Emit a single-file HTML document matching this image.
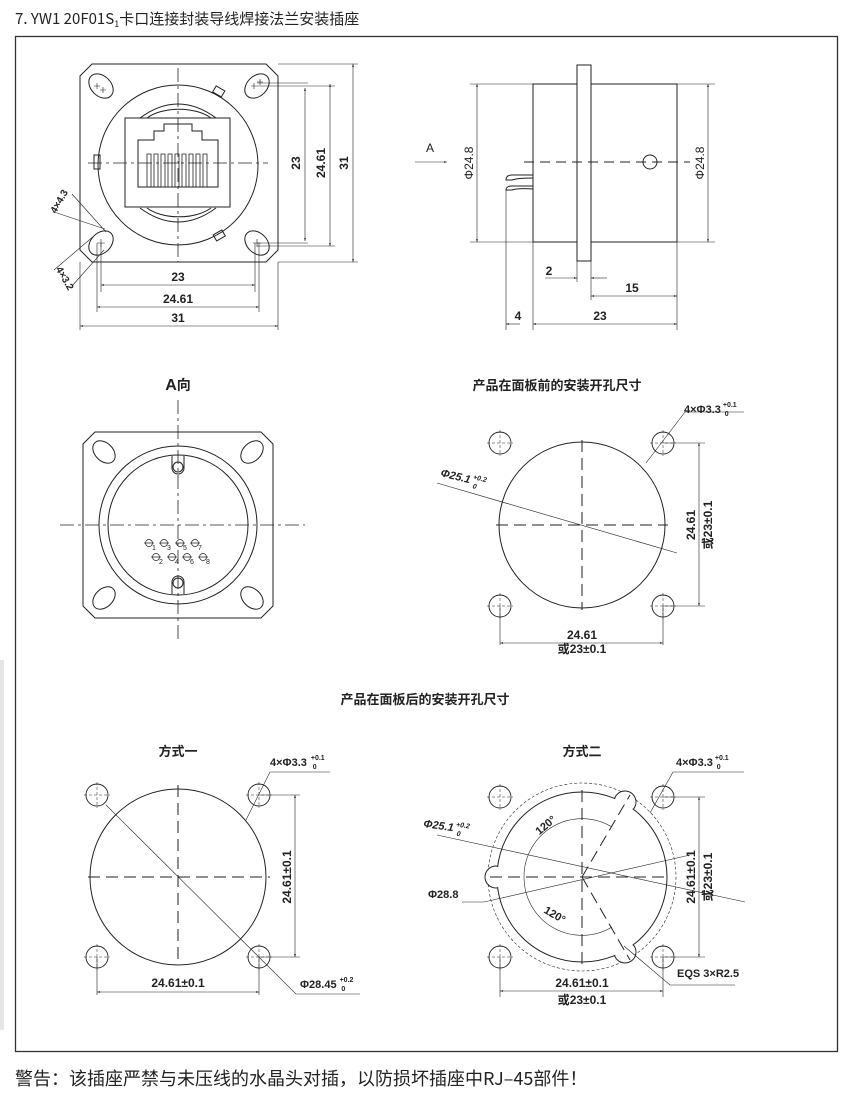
<!DOCTYPE html>
<html><head><meta charset="utf-8"><style>
html,body{margin:0;padding:0;background:#fff;}
svg{display:block;}
text{font-family:"Liberation Sans","Noto Sans CJK SC",sans-serif;fill:#222;}
.cj{font-family:"Noto Sans CJK SC","WenQuanYi Zen Hei",sans-serif;}
</style></head><body>
<svg width="850" height="1100" viewBox="0 0 850 1100" xmlns="http://www.w3.org/2000/svg">
<defs>
<marker id="ar" viewBox="0 0 10 10" refX="10" refY="5" markerWidth="7" markerHeight="5" orient="auto-start-reverse"><path d="M0,2 L10,5 L0,8 z" fill="#222"/></marker>
</defs>
<rect x="0" y="660" width="4" height="370" fill="#e6e6e6"/>
<text x="15" y="24" font-size="15" class="cj" fill="#333">7. YW1  20F01S<tspan font-size="9" dy="3">1</tspan><tspan dy="-3">卡口连接封装导线焊接法兰安装插座</tspan></text>
<rect x="15.5" y="36.5" width="822" height="1015" fill="none" stroke="#333" stroke-width="1.3"/>

<g stroke="#222" fill="none" stroke-width="1">
<!-- Top-left view -->
<path d="M92,64 L266,64 L278,76 L278,250 L266,262 L92,262 L80,250 L80,76 Z"/>
<circle cx="178" cy="165" r="80"/>
<ellipse cx="101" cy="86" rx="14" ry="10" transform="rotate(45 101 86)"/>
<ellipse cx="257" cy="86" rx="14" ry="10" transform="rotate(-45 257 86)"/>
<ellipse cx="101" cy="243" rx="14" ry="10" transform="rotate(-45 101 243)"/>
<ellipse cx="257" cy="243" rx="14" ry="10" transform="rotate(45 257 243)"/>
<g stroke-width="0.6"><path d="M94,86 h6 M97,83 v6 M100,90 h6 M103,87 v6 M251,86 h6 M254,83 v6 M257,82 h6 M260,79 v6 M97,243 h8 M101,239 v8 M253,243 h8 M257,239 v8"/></g>
<path d="M147,118 A40,22 0 0 1 211,118 M147,208 A40,22 0 0 0 211,208"/>
<path d="M140,118 Q178,90 216,118 M140,208 Q178,236 216,208"/>
<rect x="125" y="118" width="105" height="89" fill="#fff"/>
<path d="M138,187 L138,140 L154,140 L154,131 L164,131 L164,124 L192,124 L192,131 L202,131 L202,140 L218,140 L218,187 Z"/>
<g stroke-width="0.8">
<path d="M147,187 V154 H151 V187 M154,187 V154 H158 V187 M161,187 V154 H165 V187 M168,187 V154 H172 V187 M175,187 V154 H179 V187 M182,187 V154 H186 V187 M189,187 V154 H193 V187 M196,187 V154 H200 V187 M203,187 V154 H207 V187"/>
</g>
<rect x="94" y="155" width="6" height="14"/>
<rect x="214" y="88" width="10" height="7" transform="rotate(30 219 91)"/>
<rect x="214" y="232" width="10" height="7" transform="rotate(-30 219 235)"/>
<g stroke-dasharray="14,4,3,4" stroke-width="0.8">
<line x1="178" y1="68" x2="178" y2="262"/><line x1="88" y1="163" x2="268" y2="163"/>
</g>
<g stroke-width="0.6">
<path d="M257,86 H335 M257,83 H308 M257,243 H308 M257,246 H335 M278,64 H358 M278,262 H358"/>
<path d="M101,243 V292 M97,243 V312 M255,243 V292 M259,243 V312 M80,262 V330 M278,262 V330"/>
<line x1="305" y1="88" x2="305" y2="241" marker-start="url(#ar)" marker-end="url(#ar)"/>
<line x1="330" y1="84" x2="330" y2="246" marker-start="url(#ar)" marker-end="url(#ar)"/>
<line x1="353" y1="64" x2="353" y2="262" marker-start="url(#ar)" marker-end="url(#ar)"/>
<line x1="101" y1="285" x2="255" y2="285" marker-start="url(#ar)" marker-end="url(#ar)"/>
<line x1="97" y1="307" x2="259" y2="307" marker-start="url(#ar)" marker-end="url(#ar)"/>
<line x1="80" y1="326" x2="278" y2="326" marker-start="url(#ar)" marker-end="url(#ar)"/>
<path d="M54,212 L105,229 M72,194 L106,232 M54,270 L95,235 M72,286 L104,250"/>
</g>

<!-- Side view -->
<rect x="533" y="84" width="144" height="158"/>
<rect x="577" y="65" width="14" height="196" fill="#fff"/>
<circle cx="650" cy="162" r="7"/>
<path d="M533,175 H512 Q506,175 506,180 H512 Q518,178 533,178 M533,186 H512 Q506,186 506,190 H512 Q518,188 533,189"/>
<line x1="524" y1="162" x2="690" y2="162" stroke-dasharray="10,6"/>
<g stroke-width="0.6">
<line x1="415" y1="162" x2="447" y2="162" marker-end="url(#ar)"/>
<path d="M470,84 H533 M470,242 H533 M677,84 H715 M677,242 H715"/>
<line x1="477" y1="84" x2="477" y2="242" marker-start="url(#ar)" marker-end="url(#ar)"/>
<line x1="708" y1="84" x2="708" y2="242" marker-start="url(#ar)" marker-end="url(#ar)"/>
<path d="M577,261 V282 M591,261 V300 M677,242 V330 M533,242 V330 M506,190 V330"/>
<line x1="545" y1="278" x2="577" y2="278" marker-end="url(#ar)"/>
<line x1="607" y1="278" x2="591" y2="278" marker-end="url(#ar)"/>
<line x1="591" y1="296" x2="677" y2="296" marker-start="url(#ar)" marker-end="url(#ar)"/>
<line x1="533" y1="324" x2="677" y2="324" marker-start="url(#ar)" marker-end="url(#ar)"/>
<line x1="506" y1="324" x2="520" y2="324" marker-start="url(#ar)"/>
</g>

<!-- A view -->
<path d="M95,432 L261,432 L273,444 L273,606 L261,618 L95,618 L83,606 L83,444 Z"/>
<circle cx="178" cy="525" r="79"/>
<circle cx="178" cy="525" r="70"/>
<path d="M172,456 V468 A6,6 0 0 0 184,468 V456" fill="#fff"/>
<path d="M172,594 V582 A6,6 0 0 1 184,582 V594" fill="#fff"/>
<circle cx="178" cy="467" r="5"/>
<circle cx="178" cy="583" r="5"/>
<ellipse cx="104" cy="452" rx="13" ry="9" transform="rotate(45 104 452)"/>
<ellipse cx="252" cy="452" rx="13" ry="9" transform="rotate(-45 252 452)"/>
<ellipse cx="104" cy="598" rx="13" ry="9" transform="rotate(-45 104 598)"/>
<ellipse cx="252" cy="598" rx="13" ry="9" transform="rotate(45 252 598)"/>
<g stroke-width="0.7">
<circle cx="149" cy="543" r="3.5"/><circle cx="164" cy="543" r="3.5"/><circle cx="180" cy="543" r="3.5"/><circle cx="195" cy="543" r="3.5"/>
<circle cx="156" cy="557" r="3.5"/><circle cx="172" cy="557" r="3.5"/><circle cx="187" cy="557" r="3.5"/><circle cx="203" cy="557" r="3.5"/>
<path d="M144,543 h10 M159,543 h10 M175,543 h10 M190,543 h10 M151,557 h10 M167,557 h10 M182,557 h10 M198,557 h10"/>
</g>
<g font-size="7" fill="#222" stroke="none">
<text x="152" y="550">1</text><text x="167" y="550">3</text><text x="183" y="550">5</text><text x="198" y="550">7</text>
<text x="159" y="564">2</text><text x="175" y="564">4</text><text x="190" y="564">6</text><text x="206" y="564">8</text>
</g>
<g stroke-dasharray="14,4,3,4" stroke-width="0.8">
<line x1="178" y1="400" x2="178" y2="640"/><line x1="60" y1="525" x2="305" y2="525"/>
</g>

<!-- Front cutout -->
<circle cx="582" cy="525" r="83"/>
<g stroke-width="0.9">
<circle cx="500" cy="443" r="11"/><circle cx="663" cy="443" r="11"/><circle cx="500" cy="606" r="11"/><circle cx="663" cy="606" r="11"/>
</g>
<g stroke-dasharray="12,6"><line x1="582" y1="440" x2="582" y2="610"/><line x1="496" y1="525" x2="668" y2="525"/></g>
<g stroke-width="0.5" stroke-dasharray="3,2"><path d="M487,443 H513 M500,430 V456 M650,443 H676 M663,430 V456 M487,606 H513 M500,593 V619 M650,606 H676 M663,593 V619"/></g>
<g stroke-width="0.6">
<path d="M437,483 L677,553" /><path d="M646,463 L685,412 H744"/>
<path d="M663,443 H705 M663,606 H705 M500,606 V645 M663,606 V645"/>
<line x1="699" y1="443" x2="699" y2="606" marker-start="url(#ar)" marker-end="url(#ar)"/>
<line x1="500" y1="643" x2="663" y2="643" marker-start="url(#ar)" marker-end="url(#ar)"/>
</g>

<!-- Method 1 -->
<circle cx="178" cy="877" r="88"/>
<g stroke-width="0.9">
<circle cx="97" cy="795" r="11"/><circle cx="259" cy="795" r="11"/><circle cx="97" cy="957" r="11"/><circle cx="259" cy="957" r="11"/>
</g>
<g stroke-dasharray="12,6"><line x1="178" y1="785" x2="178" y2="965"/><line x1="88" y1="877" x2="270" y2="877"/></g>
<g stroke-width="0.5" stroke-dasharray="3,2"><path d="M84,795 H110 M97,782 V808 M246,795 H272 M259,782 V808 M84,957 H110 M97,944 V970 M246,957 H272 M259,944 V970"/></g>
<g stroke-width="0.6">
<path d="M106,805 L296,994 H360"/><path d="M246,820 L270,772 H330"/>
<path d="M259,795 H300 M259,957 H300 M97,957 V995 M259,957 V995"/>
<line x1="295" y1="795" x2="295" y2="957" marker-start="url(#ar)" marker-end="url(#ar)"/>
<line x1="97" y1="992" x2="259" y2="992" marker-start="url(#ar)" marker-end="url(#ar)"/>
</g>

<!-- Method 2 -->
<circle cx="582" cy="877" r="94" stroke-dasharray="3,2" stroke-width="0.6"/>
<circle cx="496" cy="877" r="11"/>
<circle cx="625" cy="802" r="11"/>
<circle cx="625" cy="952" r="11"/>
<circle cx="582" cy="877" r="85" fill="#fff"/>
<g fill="#fff" stroke="none">
<circle cx="496" cy="877" r="10.3"/>
<circle cx="625" cy="802" r="10.3"/>
<circle cx="625" cy="952" r="10.3"/>
</g>
<path d="M524,877 A58,58 0 0 1 612,827 M612,927 A58,58 0 0 1 524,877" stroke-width="0.6"/>
<g stroke-width="0.9">
<circle cx="500" cy="797" r="11"/><circle cx="663" cy="797" r="11"/><circle cx="500" cy="957" r="11"/><circle cx="663" cy="957" r="11"/>
</g>
<g stroke-dasharray="12,6"><line x1="582" y1="790" x2="582" y2="965"/><line x1="490" y1="877" x2="670" y2="877"/>
<line x1="582" y1="877" x2="630" y2="795"/><line x1="582" y1="877" x2="630" y2="960"/></g>
<g stroke-width="0.5" stroke-dasharray="3,2"><path d="M487,797 H513 M500,784 V810 M650,797 H676 M663,784 V810 M487,957 H513 M500,944 V970 M650,957 H676 M663,944 V970"/></g>
<g stroke-width="0.6">
<path d="M437,835 L745,902"/><path d="M462,902 H484 L690,855"/>
<path d="M650,813 L673,772 H744"/><path d="M624,946 L670,985 H735"/>
<path d="M663,797 H705 M663,957 H705 M500,957 V997 M663,957 V997"/>
<line x1="699" y1="797" x2="699" y2="957" marker-start="url(#ar)" marker-end="url(#ar)"/>
<line x1="500" y1="991" x2="663" y2="991" marker-start="url(#ar)" marker-end="url(#ar)"/>
</g>
</g>

<!-- Labels -->
<g font-size="12" font-weight="bold">
<text x="300" y="163" transform="rotate(-90 300 163)" text-anchor="middle">23</text>
<text x="325" y="163" transform="rotate(-90 325 163)" text-anchor="middle">24.61</text>
<text x="348" y="163" transform="rotate(-90 348 163)" text-anchor="middle">31</text>
<text x="178" y="281" text-anchor="middle">23</text>
<text x="178" y="303" text-anchor="middle">24.61</text>
<text x="178" y="322" text-anchor="middle">31</text>
<text x="62" y="203" font-size="10" transform="rotate(-60 62 203)" text-anchor="middle">4×4.3</text>
<text x="62" y="280" font-size="10" transform="rotate(60 62 280)" text-anchor="middle">4×3.2</text>
<text x="430" y="152" text-anchor="middle" font-weight="normal">A</text>
<text x="473" y="163" transform="rotate(-90 473 163)" text-anchor="middle" font-weight="normal">Φ24.8</text>
<text x="704" y="163" transform="rotate(-90 704 163)" text-anchor="middle" font-weight="normal">Φ24.8</text>
<text x="549" y="275" text-anchor="middle">2</text>
<text x="632" y="292" text-anchor="middle">15</text>
<text x="518" y="320" text-anchor="middle">4</text>
<text x="600" y="320" text-anchor="middle">23</text>
<text x="178" y="390" font-size="16" text-anchor="middle">A<tspan class="cj" font-size="14">向</tspan></text>
<text x="557" y="390" font-size="13" class="cj" text-anchor="middle">产品在面板前的安装开孔尺寸</text>
<text x="684" y="413" font-size="11">4×Φ3.3<tspan font-size="7" dx="2" dy="-6">+0.1</tspan><tspan font-size="7" dx="-12" dy="9">0</tspan></text>
<text x="440" y="476" font-size="11" font-style="italic" transform="rotate(14 440 476)">Φ25.1<tspan font-size="7" dx="2" dy="-5">+0.2</tspan><tspan font-size="7" dx="-12" dy="9">0</tspan></text>
<text x="695" y="525" transform="rotate(-90 695 525)" text-anchor="middle">24.61</text>
<text x="712" y="525" transform="rotate(-90 712 525)" text-anchor="middle"><tspan class="cj">或</tspan>23±0.1</text>
<text x="582" y="639" text-anchor="middle">24.61</text>
<text x="582" y="653" text-anchor="middle"><tspan class="cj">或</tspan>23±0.1</text>
<text x="425" y="704" font-size="13" class="cj" text-anchor="middle">产品在面板后的安装开孔尺寸</text>
<text x="178" y="756" font-size="13" class="cj" text-anchor="middle">方式一</text>
<text x="270" y="766" font-size="11">4×Φ3.3<tspan font-size="7" dx="4" dy="-6">+0.1</tspan><tspan font-size="7" dx="-12" dy="9">0</tspan></text>
<text x="291" y="877" transform="rotate(-90 291 877)" text-anchor="middle">24.61±0.1</text>
<text x="178" y="987" text-anchor="middle">24.61±0.1</text>
<text x="300" y="988" font-size="11">Φ28.45<tspan font-size="7" dx="3" dy="-6">+0.2</tspan><tspan font-size="7" dx="-12" dy="9">0</tspan></text>
<text x="582" y="756" font-size="13" class="cj" text-anchor="middle">方式二</text>
<text x="676" y="766" font-size="11">4×Φ3.3<tspan font-size="7" dx="2" dy="-6">+0.1</tspan><tspan font-size="7" dx="-12" dy="9">0</tspan></text>
<text x="423" y="827" font-size="11" font-style="italic" transform="rotate(8 423 827)">Φ25.1<tspan font-size="7" dx="2" dy="-5">+0.2</tspan><tspan font-size="7" dx="-12" dy="9">0</tspan></text>
<text x="428" y="898" font-size="11">Φ28.8</text>
<text x="548" y="828" font-size="11" transform="rotate(-40 548 828)" text-anchor="middle">120°</text>
<text x="553" y="918" font-size="11" transform="rotate(30 553 918)" text-anchor="middle">120°</text>
<text x="695" y="877" transform="rotate(-90 695 877)" text-anchor="middle">24.61±0.1</text>
<text x="712" y="877" transform="rotate(-90 712 877)" text-anchor="middle"><tspan class="cj">或</tspan>23±0.1</text>
<text x="677" y="977" font-size="11">EQS 3×R2.5</text>
<text x="582" y="987" text-anchor="middle">24.61±0.1</text>
<text x="582" y="1004" text-anchor="middle"><tspan class="cj">或</tspan>23±0.1</text>
</g>
<text x="15" y="1085" font-size="18" class="cj">警告：该插座严禁与未压线的水晶头对插，以防损坏插座中RJ–45部件！</text>
</svg>
</body></html>
